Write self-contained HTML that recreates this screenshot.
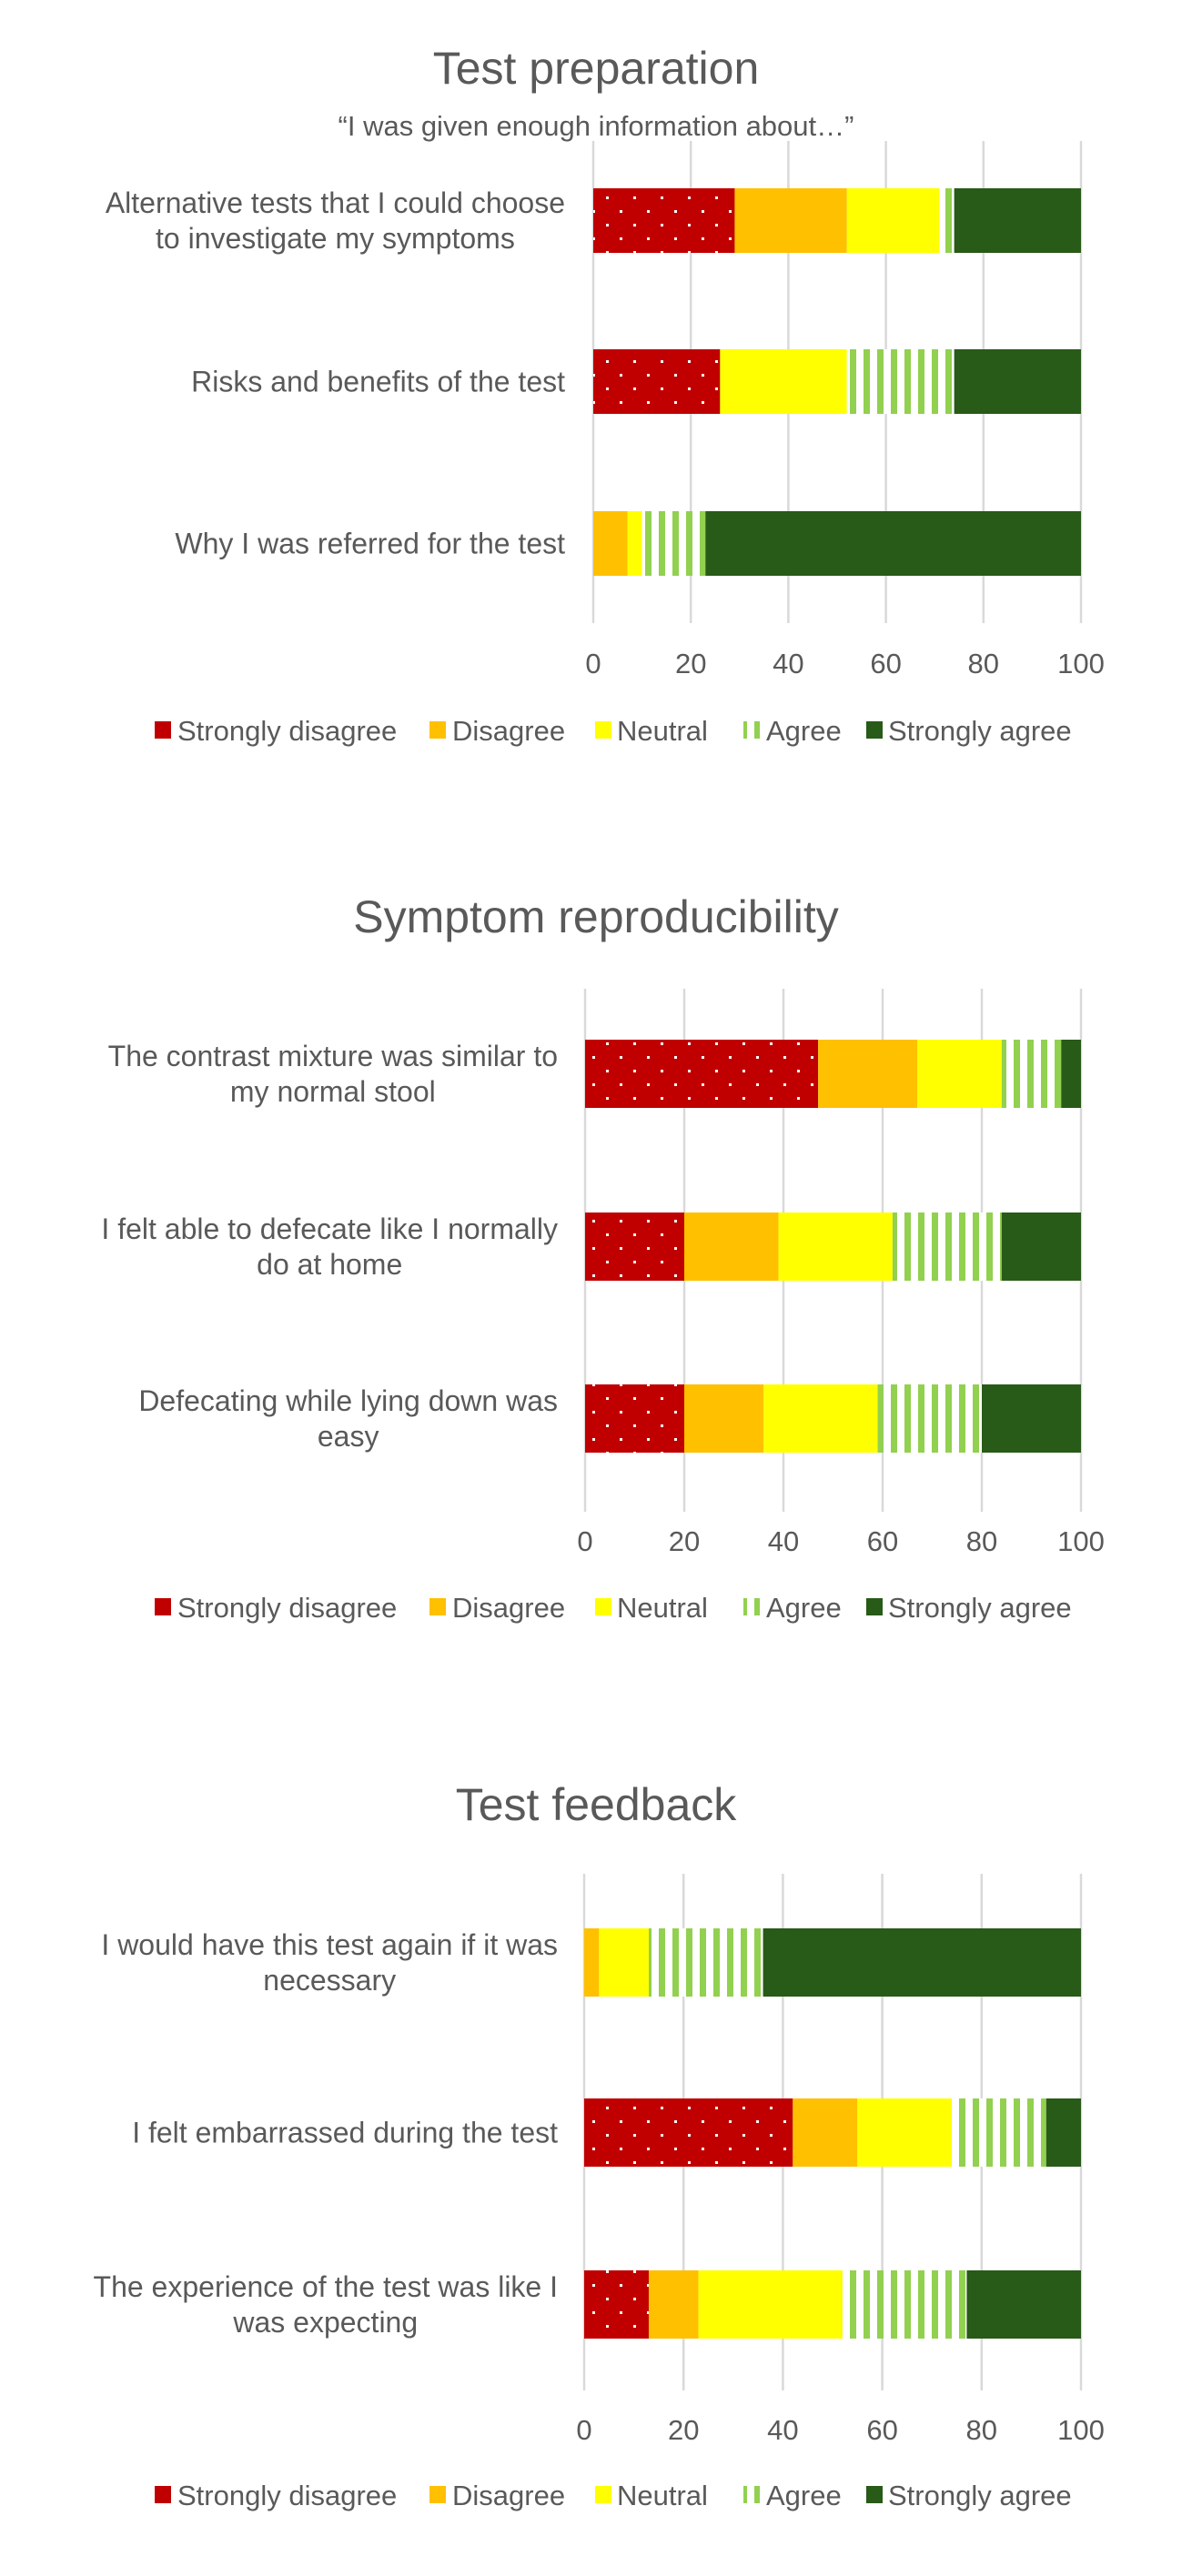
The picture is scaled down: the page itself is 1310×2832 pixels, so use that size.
<!DOCTYPE html>
<html><head><meta charset="utf-8">
<style>
body{margin:0;background:#fff;width:1310px;height:2832px;overflow:hidden;position:relative;font-family:"Liberation Sans",sans-serif;color:#595959}
.t{position:absolute;left:0;width:1310px;text-align:center;white-space:nowrap;transform:translateY(-50%)}
.lab{position:absolute;font-size:32px;line-height:39px;text-align:center;transform:translateY(-50%);white-space:nowrap}
svg{position:absolute;left:0;top:0}
</style></head>
<body>
<div class="t" style="top:75px;font-size:50px">Test preparation</div>
<div class="t" style="top:139px;font-size:31px">“I was given enough information about…”</div>
<div class="t" style="top:1008px;font-size:50px">Symptom reproducibility</div>
<div class="t" style="top:1984px;font-size:50px">Test feedback</div>
<svg id="s" width="1310" height="2832">
<defs>
<pattern id="dots" width="30" height="30" patternUnits="userSpaceOnUse">
<rect width="30" height="30" fill="#C00000"/>
<rect x="6" y="6" width="3" height="3" fill="#fff"/>
<rect x="21" y="21" width="3" height="3" fill="#fff"/>
</pattern>
<pattern id="stripes" width="15" height="10" patternUnits="userSpaceOnUse">
<rect width="15" height="10" fill="#fff"/>
<rect x="4" width="7" height="10" fill="#92D050"/>
</pattern>
</defs>
</svg>
<script>
const series=["Strongly disagree","Disagree","Neutral","Agree","Strongly agree"];
const ticks=[0,20,40,60,80,100];
const c1Cats=[["Alternative tests that I could choose","to investigate my symptoms"],["Risks and benefits of the test"],["Why I was referred for the test"]];
const c1SD=[29,26,0];
const c1D=[23,0,7];
const c1N=[19,26,3];
const c1A=[3,22,13];
const c1SA=[26,26,77];
const c2Cats=[["The contrast mixture was similar to","my normal stool"],["I felt able to defecate like I normally","do at home"],["Defecating while lying down was","easy"]];
const c2SD=[47,20,20];
const c2D=[20,19,16];
const c2N=[17,23,23];
const c2A=[12,22,21];
const c2SA=[4,16,20];
const c3Cats=[["I would have this test again if it was","necessary"],["I felt embarrassed during the test"],["The experience of the test was like I","was expecting"]];
const c3SD=[0,42,13];
const c3D=[3,13,10];
const c3N=[10,19,29];
const c3A=[23,19,25];
const c3SA=[64,7,23];

const fills=["url(#dots)","#FFC000","#FFFF00","url(#stripes)","#285A18"];
const legFills=["#C00000","#FFC000","#FFFF00","#92D050","#285A18"];
const NS="http://www.w3.org/2000/svg";
const svg=document.getElementById('s');
function mk(tag,attrs){const e=document.createElementNS(NS,tag);for(const k in attrs)e.setAttribute(k,attrs[k]);svg.appendChild(e);return e;}

const charts=[
 {id:'c1',cats:c1Cats,data:[c1SD,c1D,c1N,c1A,c1SA],x0:652,x1:1188,gTop:155,gBot:685,bars:[207,384,562],bh:71,tickY:740,legY:803,labR:621},
 {id:'c2',cats:c2Cats,data:[c2SD,c2D,c2N,c2A,c2SA],x0:643,x1:1188,gTop:1087,gBot:1662,bars:[1143,1333,1522],bh:75,tickY:1705,legY:1767,labR:613},
 {id:'c3',cats:c3Cats,data:[c3SD,c3D,c3N,c3A,c3SA],x0:642,x1:1188,gTop:2060,gBot:2628,bars:[2120,2307,2496],bh:75,tickY:2682,legY:2743,labR:613}
];
const legX=[[170,195],[472,497],[654,678],[817,842],[952,976]];
charts.forEach(c=>{
 const xs=v=>c.x0+(c.x1-c.x0)*v/100;
 ticks.forEach(t=>{
  const g=mk('line',{x1:xs(t),x2:xs(t),y1:c.gTop,y2:c.gBot,stroke:'#d9d9d9','stroke-width':2.5});
  
  
  const tx=mk('text',{x:xs(t),y:c.tickY,'text-anchor':'middle','font-size':31,fill:'#595959','font-family':'Liberation Sans, sans-serif'});
  tx.textContent=t;
  
  
 });
 c.cats.forEach((cat,i)=>{
  let acc=0;
  const y=c.bars[i];
  c.data.forEach((arr,s)=>{
   const v=arr[i];
   if(v>0){
    const r=mk('rect',{x:xs(acc),y:y,width:xs(acc+v)-xs(acc),height:c.bh,fill:fills[s]});
    
    
   }
   acc+=v;
  });
  const d=document.createElement('div');
  d.className='lab';
  d.style.right=(1310-c.labR)+'px';
  d.style.top=(y+c.bh/2)+'px';
  d.innerHTML=cat.join('<br>');
  
  
  document.body.appendChild(d);
 });
 series.forEach((s,k)=>{
  const m=mk('rect',{x:legX[k][0],y:c.legY-10,width:18,height:19,fill:k==3?'url(#stripes)':legFills[k]});
  
  
  const t=mk('text',{x:legX[k][1],y:c.legY+11,'font-size':31,fill:'#595959','font-family':'Liberation Sans, sans-serif'});
  t.textContent=s;
  
  
 });
});
</script>
</body></html>
